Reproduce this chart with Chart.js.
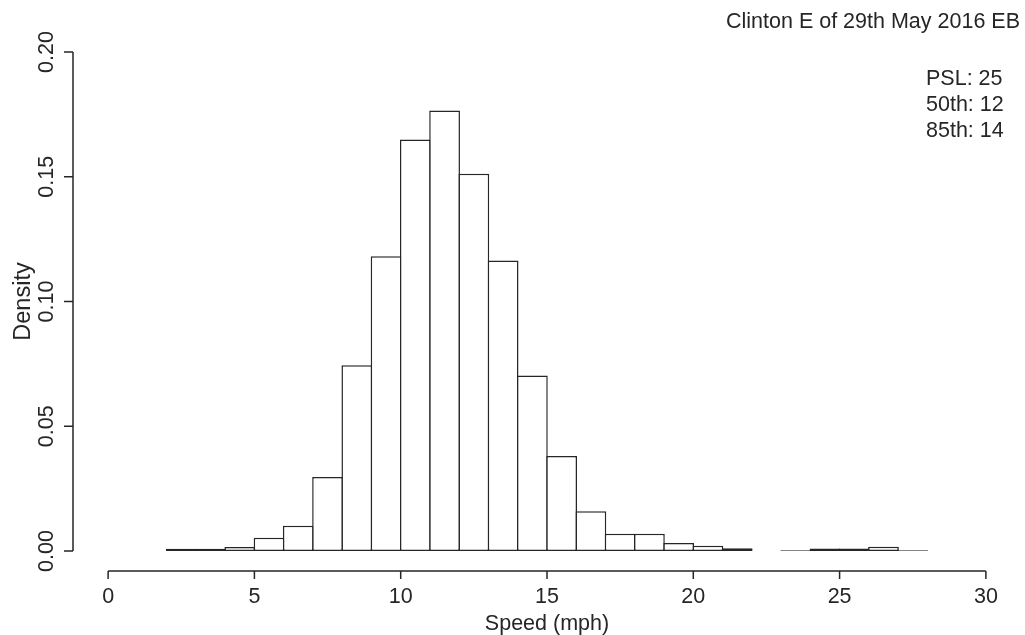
<!DOCTYPE html>
<html lang="en">
  <head>
    <meta charset="UTF-8" />
    <title>Speed histogram</title>
    <script src="https://cdn.jsdelivr.net/npm/chart.js@4.4.0/dist/chart.umd.min.js"></script>
    <style>
      body {
        margin: 0;
        background: #ffffff;
      }
      .chart-box {
        position: relative;
        width: 1025px;
        height: 635px;
      }
    </style>
  </head>
  <body>
    <div class="chart-box">
      <canvas id="speedChart" width="1025" height="635"></canvas>
    </div>

    <script>
      // histogram bins (left edge, mph) and their density
      const binStarts = [2, 3, 4, 5, 6, 7, 8, 9, 10, 11, 12, 13, 14, 15, 16, 17, 18, 19, 20, 21, 22, 23, 24, 25, 26, 27];
      const densities = [0.0009, 0.0009, 0.0016, 0.0053, 0.0101, 0.0297, 0.0745, 0.1181, 0.1649, 0.1765, 0.1512, 0.1164, 0.0703, 0.0381, 0.0159, 0.0069, 0.0069, 0.0032, 0.0021, 0.0011, 0, 0.0003, 0.0010, 0.0010, 0.0017, 0.0003];
      const xTicks = [0, 5, 10, 15, 20, 25, 30];
      const yTicks = [0, 0.05, 0.1, 0.15, 0.2];
      const titleText = "Clinton E of 29th May 2016 EB";
      const statLines = ["PSL: 25", "50th: 12", "85th: 14"];

      const FONT = '21.5px "Liberation Sans", Arial, sans-serif';
      const LABEL_FONT = '23.5px "Liberation Sans", Arial, sans-serif';
      const INK = "#262626";
      const LINE_W = 1.5;

      // R style axes, detached from the plot box
      const rAxes = {
        id: "rAxes",
        afterDraw(chart) {
          const c = chart.ctx;
          const xs = chart.scales.x;
          const ys = chart.scales.y;
          const area = chart.chartArea;
          c.save();
          c.strokeStyle = INK;
          c.fillStyle = INK;
          c.lineWidth = LINE_W;
          c.font = FONT;
          c.textBaseline = "alphabetic";

          // x axis
          const ax = Math.round(area.bottom);
          c.beginPath();
          c.moveTo(xs.getPixelForValue(xTicks[0]), ax);
          c.lineTo(xs.getPixelForValue(xTicks[xTicks.length - 1]), ax);
          xTicks.forEach((t) => {
            const px = xs.getPixelForValue(t);
            c.moveTo(px, ax);
            c.lineTo(px, ax + 8);
          });
          c.stroke();
          c.textAlign = "center";
          xTicks.forEach((t) => {
            c.fillText(String(t), xs.getPixelForValue(t), 603);
          });
          c.fillText("Speed (mph)", (xs.getPixelForValue(0) + xs.getPixelForValue(30)) / 2, 630);

          // y axis
          const ay = Math.round(area.left);
          c.beginPath();
          c.moveTo(ay, ys.getPixelForValue(yTicks[0]));
          c.lineTo(ay, ys.getPixelForValue(yTicks[yTicks.length - 1]));
          yTicks.forEach((t) => {
            const py = ys.getPixelForValue(t);
            c.moveTo(ay, py);
            c.lineTo(ay - 9, py);
          });
          c.stroke();
          yTicks.forEach((t) => {
            c.save();
            c.translate(53, ys.getPixelForValue(t));
            c.rotate(-Math.PI / 2);
            c.fillText(t.toFixed(2), 0, 0);
            c.restore();
          });
          c.save();
          c.font = LABEL_FONT;
          c.translate(30, (ys.getPixelForValue(0) + ys.getPixelForValue(0.2)) / 2);
          c.rotate(-Math.PI / 2);
          c.fillText("Density", 0, 0);
          c.restore();

          // title and stats
          c.textAlign = "right";
          c.fillText(titleText, 1020, 28);
          c.textAlign = "left";
          statLines.forEach((s, i) => {
            c.fillText(s, 926, 85 + i * 25.8);
          });
          c.restore();
        },
      };

      const ctx = document.getElementById("speedChart").getContext("2d");
      const speedChart = new Chart(ctx, {
        type: "bar",
        data: {
          datasets: [
            {
              label: "Density",
              data: binStarts.map((b, i) => ({ x: b + 0.5, y: densities[i] })),
              backgroundColor: "#ffffff",
              borderColor: INK,
              borderSkipped: false,
              borderWidth: LINE_W,
              // bars a touch wider than a bin so neighbouring borders overlap into one line
              barPercentage: 1.051,
              categoryPercentage: 1,
            },
          ],
        },
        options: {
          responsive: false,
          animation: false,
          layout: {
            padding: { left: 73, right: 4, top: 32, bottom: 64 },
          },
          plugins: {
            legend: { display: false },
            tooltip: { enabled: false },
          },
          scales: {
            x: { type: "linear", min: -1.2, max: 31.2, offset: false, display: false },
            y: { min: -0.008, max: 0.208, display: false },
          },
        },
        plugins: [rAxes],
      });
    </script>
  </body>
</html>
